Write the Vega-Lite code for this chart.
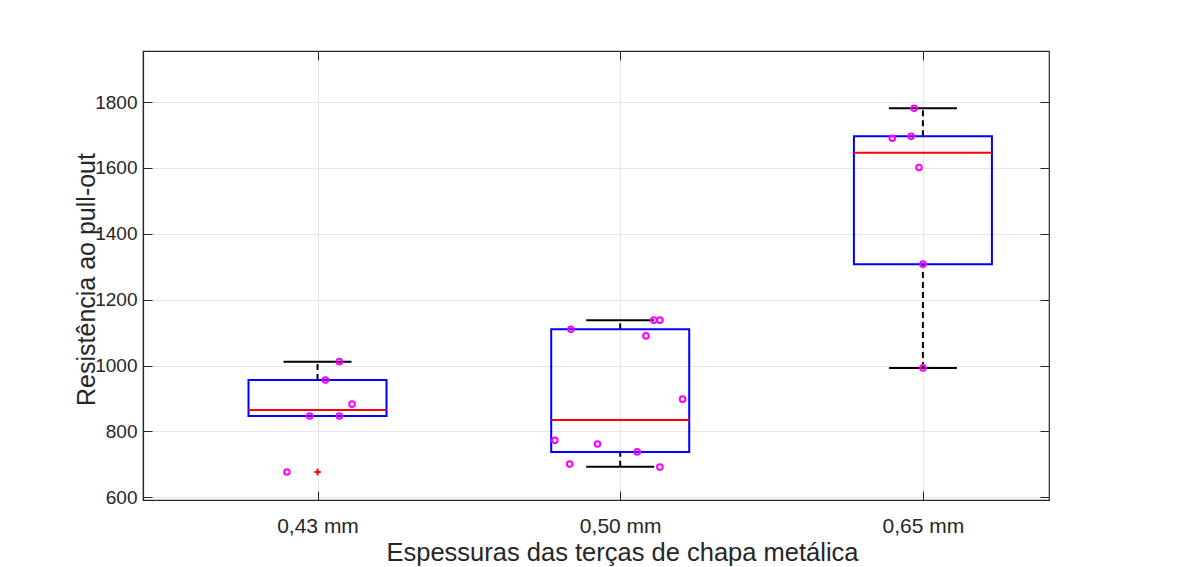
{
  "$schema": "https://vega.github.io/schema/vega-lite/v6.json",
  "width": 906,
  "height": 449,
  "autosize": "none",
  "padding": {"left": 143, "top": 51, "right": 138, "bottom": 67},
  "background": "white",
  "config": {
    "font": "Liberation Sans",
    "view": {"stroke": "#262626", "strokeWidth": 1.2},
    "axis": {
      "labelFont": "Liberation Sans",
      "titleFont": "Liberation Sans",
      "labelColor": "#262626",
      "titleColor": "#262626",
      "titleFontWeight": "normal",
      "domainColor": "#262626",
      "tickColor": "#262626",
      "gridColor": "#e6e6e6",
      "gridWidth": 1
    }
  },
  "datasets": {
    "stats": [
      {"pos": 1, "q1": 847, "med": 865, "q3": 956, "lo": 847, "hi": 1012},
      {"pos": 2, "q1": 738, "med": 835, "q3": 1110, "lo": 693, "hi": 1138},
      {"pos": 3, "q1": 1308, "med": 1646, "q3": 1696, "lo": 993, "hi": 1781}
    ],
    "outliers": [
      {"pos": 1, "v": 677}
    ],
    "points": [
      {"x": 0.899, "v": 677},
      {"x": 0.974, "v": 847},
      {"x": 1.072, "v": 847},
      {"x": 1.114, "v": 883},
      {"x": 1.026, "v": 956},
      {"x": 1.072, "v": 1012},
      {"x": 1.837, "v": 1110},
      {"x": 2.085, "v": 1090},
      {"x": 2.111, "v": 1138},
      {"x": 2.131, "v": 1138},
      {"x": 2.206, "v": 898},
      {"x": 1.784, "v": 773},
      {"x": 1.925, "v": 762},
      {"x": 2.056, "v": 738},
      {"x": 1.833, "v": 701},
      {"x": 2.131, "v": 692},
      {"x": 2.971, "v": 1781},
      {"x": 2.899, "v": 1690},
      {"x": 2.961, "v": 1696},
      {"x": 2.987, "v": 1601},
      {"x": 3.0, "v": 1308},
      {"x": 3.0, "v": 993}
    ]
  },
  "resolve": {"axis": {"x": "independent", "y": "independent"}},
  "layer": [
    {
      "data": {"name": "stats"},
      "mark": {"type": "rule", "color": "black", "strokeWidth": 2, "strokeDash": [6, 4]},
      "encoding": {
        "x": {
          "field": "pos", "type": "quantitative",
          "scale": {"domain": [0.44, 3.4], "nice": false, "zero": false},
          "axis": {
            "title": "Espessuras das terças de chapa metálica",
            "values": [1, 2, 3],
            "labelExpr": "datum.value == 1 ? '0,43 mm' : datum.value == 2 ? '0,50 mm' : '0,65 mm'",
            "labelFontSize": 21, "titleFontSize": 25.5,
            "tickSize": -9, "labelPadding": 24, "titlePadding": 4,
            "titleX": 479, "titleAlign": "center",
            "grid": true, "domainWidth": 1.2
          }
        },
        "y": {
          "field": "q3", "type": "quantitative",
          "scale": {"domain": [592, 1955], "nice": false, "zero": false},
          "axis": {
            "title": "Resistência ao pull-out",
            "values": [600, 800, 1000, 1200, 1400, 1600, 1800],
            "format": "d",
            "labelFontSize": 19, "titleFontSize": 25,
            "tickSize": -9, "labelPadding": 15, "titlePadding": -5,
            "titleY": 228, "titleAlign": "center",
            "grid": true, "domainWidth": 1.2
          }
        },
        "y2": {"field": "hi"}
      }
    },
    {
      "data": {"name": "stats"},
      "mark": {"type": "rule", "color": "black", "strokeWidth": 2, "strokeDash": [6, 4]},
      "encoding": {
        "x": {"field": "pos", "type": "quantitative", "axis": null},
        "y": {"field": "lo", "type": "quantitative", "axis": null},
        "y2": {"field": "q1"}
      }
    },
    {
      "data": {"name": "stats"},
      "mark": {"type": "tick", "orient": "horizontal", "color": "black", "opacity": 1, "size": 68, "thickness": 2},
      "encoding": {
        "x": {"field": "pos", "type": "quantitative", "axis": {"orient": "top", "labels": false, "grid": false, "domain": false, "title": null, "values": [1, 2, 3], "tickSize": -9, "tickColor": "#262626"}},
        "y": {"field": "hi", "type": "quantitative", "axis": {"orient": "right", "labels": false, "grid": false, "domain": false, "title": null, "values": [600, 800, 1000, 1200, 1400, 1600, 1800], "tickSize": -9, "tickColor": "#262626"}}
      }
    },
    {
      "data": {"name": "stats"},
      "mark": {"type": "tick", "orient": "horizontal", "color": "black", "opacity": 1, "size": 68, "thickness": 2},
      "encoding": {
        "x": {"field": "pos", "type": "quantitative", "axis": null},
        "y": {"field": "lo", "type": "quantitative", "axis": null}
      }
    },
    {
      "data": {"name": "stats"},
      "mark": {"type": "bar", "size": 138, "fill": null, "fillOpacity": 0, "stroke": "#0000ff", "strokeWidth": 2},
      "encoding": {
        "x": {"field": "pos", "type": "quantitative", "axis": null},
        "y": {"field": "q1", "type": "quantitative", "axis": null},
        "y2": {"field": "q3"}
      }
    },
    {
      "data": {"name": "stats"},
      "mark": {"type": "tick", "orient": "horizontal", "color": "#ff0000", "opacity": 1, "size": 138, "thickness": 2},
      "encoding": {
        "x": {"field": "pos", "type": "quantitative", "axis": null},
        "y": {"field": "med", "type": "quantitative", "axis": null}
      }
    },
    {
      "data": {"name": "outliers"},
      "mark": {"type": "point", "shape": "M-1,0L1,0M0,-1L0,1", "size": 40, "stroke": "#ff0000", "strokeWidth": 2, "filled": false, "opacity": 1},
      "encoding": {
        "x": {"field": "pos", "type": "quantitative", "axis": null},
        "y": {"field": "v", "type": "quantitative", "axis": null}
      }
    },
    {
      "data": {"name": "points"},
      "mark": {"type": "point", "shape": "circle", "size": 32, "stroke": "#ff00ff", "strokeWidth": 2, "filled": false, "opacity": 1},
      "encoding": {
        "x": {"field": "x", "type": "quantitative", "axis": null},
        "y": {"field": "v", "type": "quantitative", "axis": null}
      }
    }
  ]
}
